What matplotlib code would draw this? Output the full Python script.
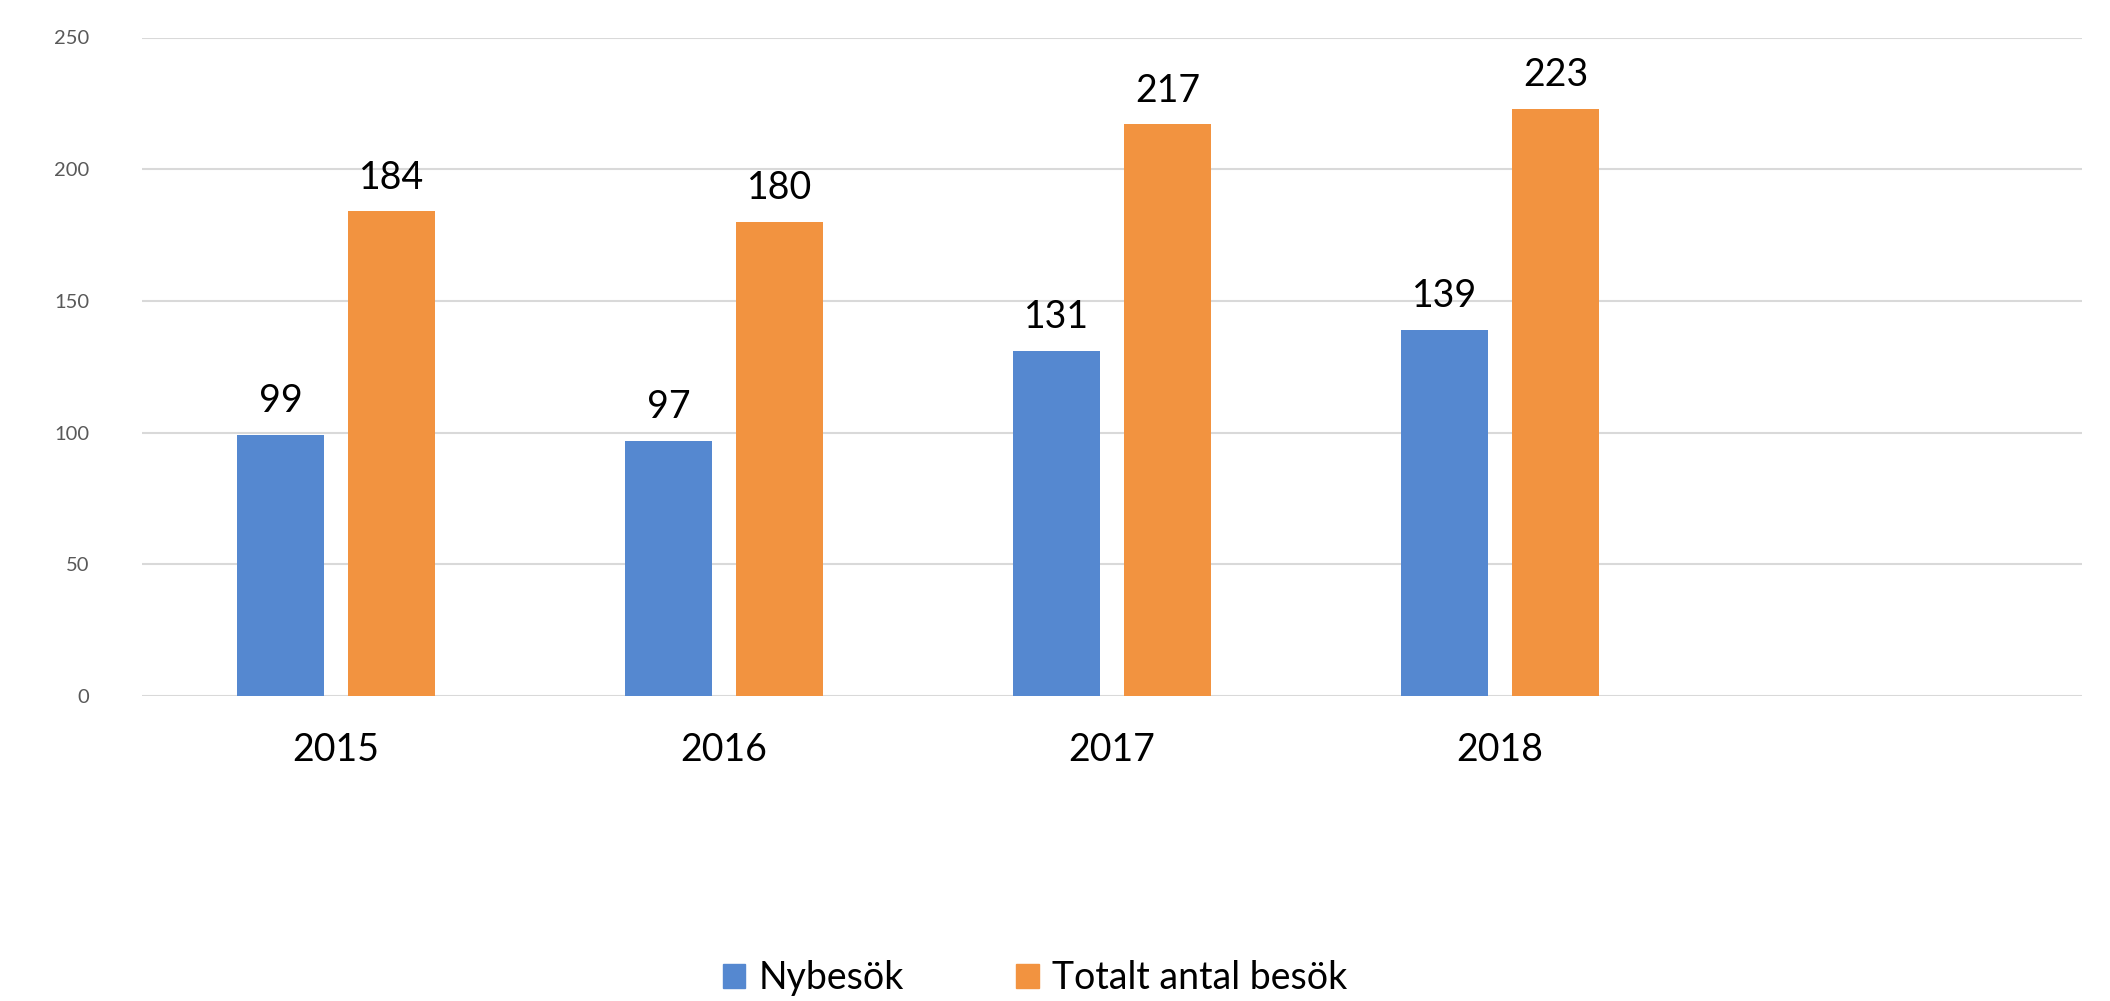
import matplotlib
matplotlib.use("Agg")
import matplotlib.pyplot as plt
import numpy as np
from matplotlib.patches import Patch

categories = ["2015", "2016", "2017", "2018", ""]
nybesok = [99, 97, 131, 139, None]
totalt = [184, 180, 217, 223, None]
series_names = ["Nybesök", "Totalt antal besök"]
yticks = [0, 50, 100, 150, 200, 250]

blue = "#5588D0"
orange = "#F29340"

plt.rcParams['font.family'] = ['Lato', 'DejaVu Sans']

W, H = 2110, 1001
fig = plt.figure(figsize=(W/100, H/100), dpi=100)
ax = fig.add_axes([142/W, 1-696/H, (2082-142)/W, (696-37.5)/H])

x = np.arange(len(categories))
bw = 0.225
off = 0.143
for i, (a, b) in enumerate(zip(nybesok, totalt)):
    if a is not None:
        ax.bar(x[i]-off, a, bw, color=blue, zorder=3)
        ax.text(x[i]-off, a + 6, str(a), ha='center', va='bottom', fontsize=27, color='black')
    if b is not None:
        ax.bar(x[i]+off, b, bw, color=orange, zorder=3)
        ax.text(x[i]+off, b + 6, str(b), ha='center', va='bottom', fontsize=27, color='black')

ax.set_xlim(-0.5, len(categories)-0.5)
ax.set_ylim(0, 250)
ax.set_yticks(yticks)
ax.set_yticklabels([str(t) for t in yticks], fontsize=14.5, color='#595959')
ax.set_xticks(x)
ax.set_xticklabels(categories, fontsize=27, color='black')
ax.tick_params(axis='both', length=0)
ax.tick_params(axis='y', pad=38)
ax.tick_params(axis='x', pad=26)
ax.grid(axis='y', color='#D9D9D9', linewidth=1.5, zorder=0)
for s in ax.spines.values():
    s.set_visible(False)

handles = [Patch(color=blue), Patch(color=orange)]
fig.legend(handles, series_names, loc='center', bbox_to_anchor=(1035/W, 1-978/H),
           ncol=2, frameon=False, fontsize=27, handlelength=0.6, handleheight=0.6,
           handletextpad=0.35, columnspacing=3.0)

fig.savefig("out.png", dpi=100)
